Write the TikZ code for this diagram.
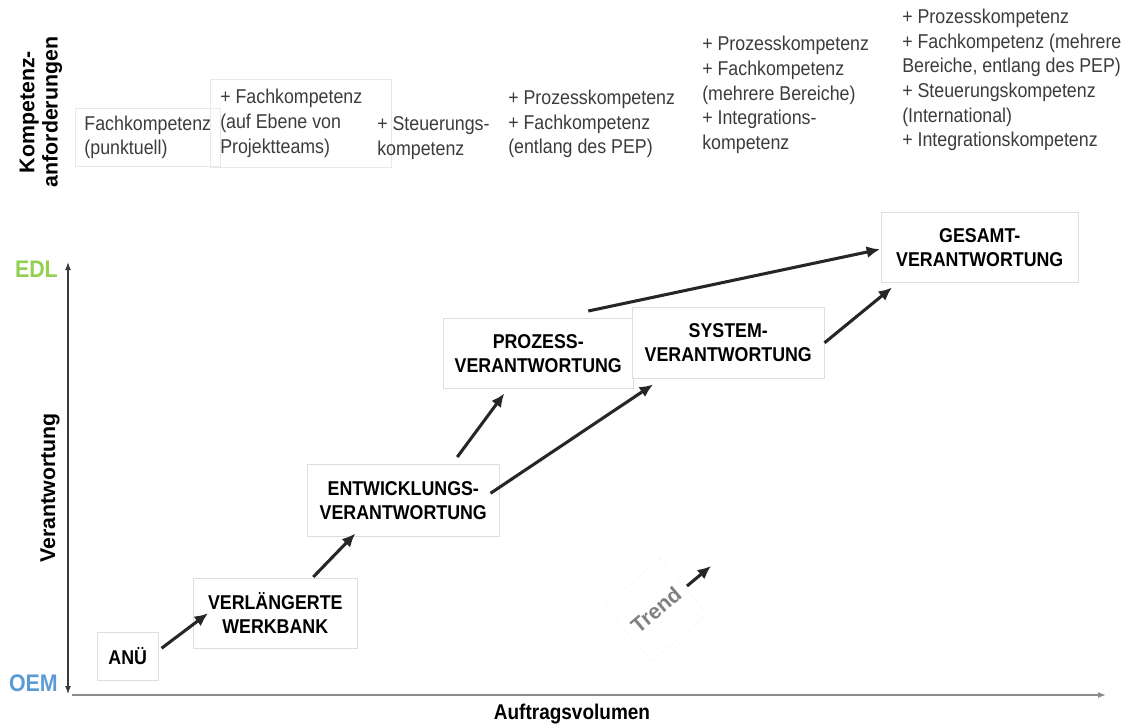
\documentclass[tikz,border=0pt]{standalone}
\usepackage{fontspec}
\setmainfont{Liberation Sans}
\newfontfamily\schmal[FakeStretch=0.89]{Liberation Sans}
\usepackage{xcolor}
\usepackage{tikz}
\usetikzlibrary{arrows.meta,calc,positioning}

\definecolor{edlgruen}{RGB}{146,208,80}
\definecolor{oemblau}{RGB}{91,155,213}
\definecolor{textgrau}{RGB}{60,60,60}
\definecolor{rahmengrau}{RGB}{222,222,222}
\definecolor{pfeilgrau}{RGB}{38,38,38}

\tikzset{
  stufe/.style={draw=rahmengrau, fill=white, inner sep=0pt, align=center,
    font=\schmal\bfseries\fontsize{15}{18}\selectfont},
  kompetenz/.style={inner sep=0pt, align=left, text=textgrau,
    font=\schmal\fontsize{15}{18.5}\selectfont},
  kbox/.style={kompetenz, draw=rahmengrau!70},
  pfeil/.style={-{Latex[length=10pt,width=9pt]}, line width=2.3pt, draw=pfeilgrau},
  achse/.style={inner sep=0pt, font=\bfseries\fontsize{16}{17.5}\selectfont}
}

\begin{document}
\begin{tikzpicture}[x=0.75pt,y=-0.75pt]
\useasboundingbox (0,0) rectangle (1133,726);

% Kompetenzanforderungen
\node[achse, rotate=90, align=center] (kanf) at (41,112) {Kompetenz-\\anforderungen};

\coordinate(O1) at (75,108);
\node[below right=0cm of O1, kbox, minimum width=108.75pt, minimum height=43.5pt](k1) {Fachkompetenz\\(punktuell)};

\coordinate(O1) at (210,79);
\node[below right=0cm of O1, kbox, text width=120.75pt, align=flush left, inner xsep=7.5pt, minimum height=66pt](k2) {+ Fachkompetenz\\(auf Ebene von\\Projektteams)};

\node[kompetenz, anchor=west](k3) at (377,138) {+ Steuerungs-\\kompetenz};
\node[kompetenz, anchor=west](k4) at (508,124) {+ Prozesskompetenz\\+ Fachkompetenz\\(entlang des PEP)};
\node[kompetenz, anchor=west](k5) at (702,95) {+ Prozesskompetenz\\+ Fachkompetenz\\(mehrere Bereiche)\\+ Integrations-\\kompetenz};
\node[kompetenz, anchor=west](k6) at (902,80) {+ Prozesskompetenz\\+ Fachkompetenz (mehrere\\Bereiche, entlang des PEP)\\+ Steuerungskompetenz\\(International)\\+ Integrationskompetenz};

% Achsen
\coordinate(ytop) at (68,262);
\coordinate(ybot) at (68,694);
\coordinate(xlinks) at (72,695);
\coordinate(xrechts) at (1106,695);
\draw[{Latex[length=6pt,width=4.5pt]}-{Latex[length=6pt,width=4.5pt]}, line width=0.8pt, draw=textgrau] (ybot) -- (ytop);
\draw[-{Latex[length=6pt,width=4.5pt]}, line width=1pt, draw=black!45] (xlinks) -- (xrechts);

\node[inner sep=0pt, anchor=east, text=edlgruen, font=\schmal\bfseries\fontsize{18}{20}\selectfont] (edl) at (58,269) {EDL};
\node[inner sep=0pt, anchor=east, text=oemblau, font=\schmal\bfseries\fontsize{18}{20}\selectfont] (oem) at (58,683) {OEM};
\node[achse, rotate=90] (verantw) at (50,488) {Verantwortung};
\node[achse, font=\schmal\bfseries\fontsize{16}{17.5}\selectfont] (auftrag) at (572,714) {Auftragsvolumen};

% Stufen
\coordinate(O1) at (97,632);
\node[below right=0cm of O1, stufe, minimum width=45.75pt, minimum height=36pt](anue) {ANÜ};

\coordinate(O1) at (193,578);
\node[below right=0cm of O1, stufe, minimum width=123pt, minimum height=52.5pt](werkbank) {VERLÄNGERTE\\WERKBANK};

\coordinate(O1) at (307,464);
\node[below right=0cm of O1, stufe, minimum width=144pt, minimum height=54pt](entw) {ENTWICKLUNGS-\\VERANTWORTUNG};

\coordinate(O1) at (443,318);
\node[below right=0cm of O1, stufe, minimum width=142.5pt, minimum height=52.5pt](prozess) {PROZESS-\\VERANTWORTUNG};

\coordinate(O1) at (632,307);
\node[below right=0cm of O1, stufe, minimum width=144pt, minimum height=53.25pt](system) {SYSTEM-\\VERANTWORTUNG};

\coordinate(O1) at (881,212);
\node[below right=0cm of O1, stufe, minimum width=147.75pt, minimum height=52.5pt](gesamt) {GESAMT-\\VERANTWORTUNG};

\draw[pfeil] ($(anue.east)+(3,-8)$) -- ($(werkbank.west)+(15,0)$);
\draw[pfeil] ($(werkbank.north)+(38,-1)$) -- ($(entw.south)+(-48,-3)$);
\draw[pfeil] ($(entw.north)+(54,-7)$) -- ($(prozess.south)+(-34,5)$);
\draw[pfeil] ($(entw.east)+(-9,-7)$) -- ($(system.south west)+(21,6)$);
\draw[pfeil] ($(prozess.north)+(50,-7)$) -- ($(gesamt.west)+(-1,2)$);
\draw[pfeil] (system.east) -- ($(gesamt.south west)+(11,5)$);

% Trend
\node[draw=rahmengrau!80, densely dotted, minimum size=55pt, rotate=40, text=black!50,
  font=\bfseries\fontsize{16}{18}\selectfont](trend) at (656,610) {Trend};
\coordinate(t1) at ($(trend.center)+(31,-24)$);
\coordinate(t2) at ($(trend.center)+(55,-44)$);
\draw[pfeil] (t1) -- (t2);
\end{tikzpicture}
\end{document}
